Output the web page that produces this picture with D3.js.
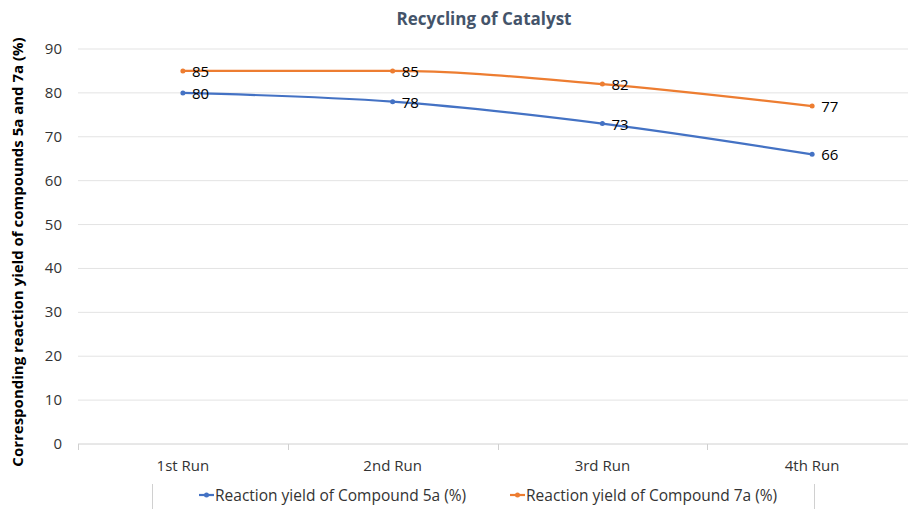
<!DOCTYPE html>
<html>
<head>
<meta charset="utf-8">
<script src="https://cdn.jsdelivr.net/npm/d3@7"></script>
<style>
  body { margin: 0; background: #fff; }
  svg text { font-family: "Open Sans", "Liberation Sans", sans-serif; }
</style>
</head>
<body>
<svg id="chart" width="908" height="509"></svg>
<script>
// data
var runs = ["1st Run", "2nd Run", "3rd Run", "4th Run"];
var yield5a = [80, 78, 73, 66];
var yield7a = [85, 85, 82, 77];
var yTicks = [0, 10, 20, 30, 40, 50, 60, 70, 80, 90];
var seriesNames = ["Reaction yield of Compound 5a (%)", "Reaction yield of Compound 7a (%)"];
var seriesColors = ["#4472C4", "#ED7D31"];

var svg = d3.select("#chart");
var W = 908, H = 509;

var x = d3.scaleBand().domain(runs).range([78, 917]);
var y = d3.scaleLinear().domain([0, 90]).range([444, 49]);

// gridlines
svg.append("g").selectAll("line").data(yTicks).enter().append("line")
  .attr("x1", 78).attr("x2", W)
  .attr("y1", function (d) { return y(d); }).attr("y2", function (d) { return y(d); })
  .attr("stroke", function (d) { return d === 0 ? "#d0d0d0" : "#e3e3e3"; })
  .attr("stroke-width", 1);

// category tick marks
svg.append("g").selectAll("line").data(runs).enter().append("line")
  .attr("x1", function (d) { return Math.round(x(d)) + 0.5; })
  .attr("x2", function (d) { return Math.round(x(d)) + 0.5; })
  .attr("y1", 444).attr("y2", 450)
  .attr("stroke", "#d0d0d0");

// y tick labels
svg.append("g").selectAll("text").data(yTicks).enter().append("text")
  .attr("x", 62).attr("y", function (d) { return y(d) + 5; })
  .attr("text-anchor", "end")
  .attr("font-size", 15).attr("fill", "#333")
  .text(function (d) { return d; });

// x labels
svg.append("g").selectAll("text").data(runs).enter().append("text")
  .attr("x", function (d) { return x(d) + x.bandwidth() / 2; })
  .attr("y", 471)
  .attr("text-anchor", "middle")
  .attr("font-size", 15).attr("fill", "#333")
  .text(function (d) { return d; });

// title
svg.append("text").attr("x", 484).attr("y", 25)
  .attr("text-anchor", "middle").attr("font-size", 17).attr("font-weight", "bold")
  .attr("fill", "#44546A").text("Recycling of Catalyst");

// y axis title
svg.append("text").attr("transform", "translate(23,252) rotate(-90)")
  .attr("text-anchor", "middle").attr("font-size", 15).attr("font-weight", "bold")
  .attr("fill", "#000").text("Corresponding reaction yield of compounds 5a and 7a (%)");

var line = d3.line()
  .x(function (d, i) { return x(runs[i]) + x.bandwidth() / 2; })
  .y(function (d) { return y(d); })
  .curve(d3.curveMonotoneX);

[yield5a, yield7a].forEach(function (vals, k) {
  var g = svg.append("g");
  g.append("path").attr("d", line(vals)).attr("fill", "none")
    .attr("stroke", seriesColors[k]).attr("stroke-width", 2.2);
  g.selectAll("circle").data(vals).enter().append("circle")
    .attr("cx", function (d, i) { return x(runs[i]) + x.bandwidth() / 2; })
    .attr("cy", function (d) { return y(d); })
    .attr("r", 2.5).attr("fill", seriesColors[k]);
  g.selectAll("text").data(vals).enter().append("text")
    .attr("x", function (d, i) { return x(runs[i]) + x.bandwidth() / 2 + 9; })
    .attr("y", function (d) { return y(d) + 6; })
    .attr("font-size", 15).attr("fill", "#000")
    .text(function (d) { return d; });
});

// legend frame
svg.append("line").attr("x1", 152.5).attr("x2", 152.5).attr("y1", 484).attr("y2", H).attr("stroke", "#d0d0d0");
svg.append("line").attr("x1", 814.5).attr("x2", 814.5).attr("y1", 484).attr("y2", H).attr("stroke", "#d0d0d0");

var legX = [199, 510];
seriesNames.forEach(function (name, k) {
  var g = svg.append("g").attr("transform", "translate(" + legX[k] + ",495)");
  g.append("line").attr("x1", 0).attr("x2", 15).attr("stroke", seriesColors[k]).attr("stroke-width", 2.2);
  g.append("circle").attr("cx", 7.5).attr("r", 2.5).attr("fill", seriesColors[k]);
  g.append("text").attr("x", 16).attr("y", 5.5).attr("font-size", 15.5).attr("fill", "#333").text(name);
});
</script>
</body>
</html>
